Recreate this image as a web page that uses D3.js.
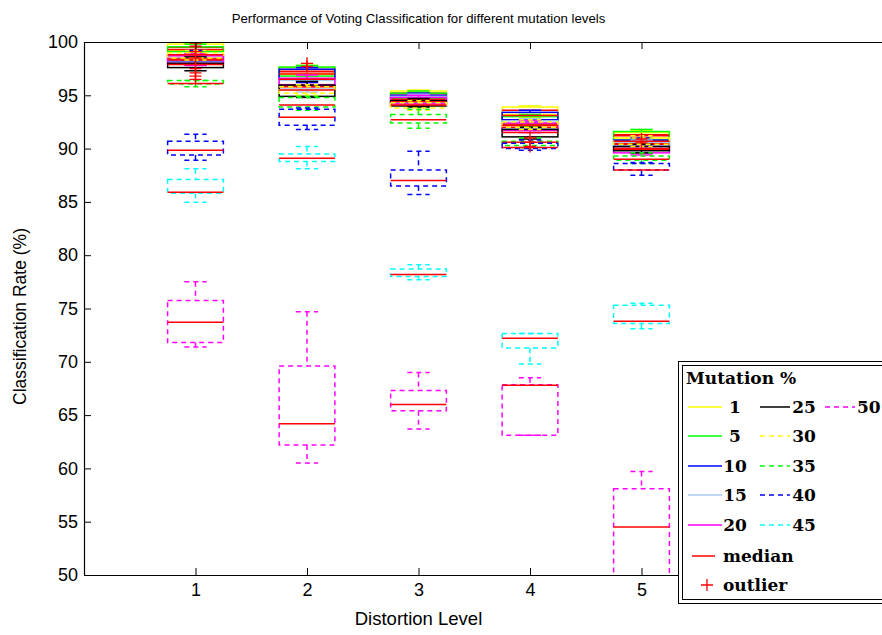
<!DOCTYPE html>
<html>
<head>
<meta charset="utf-8">
<script src="https://cdn.jsdelivr.net/npm/d3@7"></script>
<style>
  html, body { margin: 0; padding: 0; background: #fff; }
  svg { display: block; }
</style>
</head>
<body>
<svg id="chart" width="882" height="635"></svg>
<script>
// Distortion levels along the x axis
const distortionLevels = [1, 2, 3, 4, 5];
// Mutation percentages, one box group each
const mutationLevels = [1, 5, 10, 15, 20, 25, 30, 35, 40, 45, 50];

// Box statistics per distortion level: [lower whisker, Q1, median, Q3, upper whisker]
const mut1  = [[99.0, 99.2, 99.5, 99.8, 99.9], [96.8, 97.0, 97.4, 97.6, 97.8], [94.7, 94.9, 95.2, 95.4, 95.5], [92.9, 93.2, 93.6, 93.9, 94.0], [90.8, 91.0, 91.3, 91.5, 91.7]];
const mut5  = [[98.8, 99.1, 99.3, 99.55, 99.8], [96.4, 96.8, 97.2, 97.65, 97.8], [94.5, 94.7, 95.0, 95.2, 95.4], [92.1, 92.3, 92.7, 93.0, 93.2], [90.6, 90.8, 91.2, 91.6, 91.8]];
const mut10 = [[97.9, 98.2, 98.5, 98.75, 99.2], [96.2, 96.5, 97.0, 97.45, 97.6], [94.3, 94.5, 94.8, 95.0, 95.2], [92.5, 92.7, 93.1, 93.4, 93.6], [90.0, 90.2, 90.5, 90.8, 91.0]];
const mut15 = [[97.9, 98.1, 98.3, 98.5, 98.7], [95.3, 95.6, 96.0, 96.4, 96.6], [94.1, 94.3, 94.6, 94.9, 95.1], [91.7, 91.9, 92.3, 92.6, 92.8], [89.9, 90.1, 90.4, 90.6, 90.8]];
const mut20 = [[97.8, 98.0, 98.4, 98.7, 98.9], [95.8, 96.0, 96.5, 96.6, 96.9], [94.0, 94.2, 94.5, 94.8, 95.0], [91.5, 91.7, 92.0, 92.4, 92.6], [89.4, 89.6, 89.9, 90.0, 90.2]];
const mut25 = [[97.3, 97.6, 97.9, 98.0, 98.6], [94.8, 94.9, 95.8, 95.96, 96.3], [93.9, 94.0, 94.4, 94.5, 94.7], [90.9, 91.1, 91.5, 91.8, 92.0], [89.6, 89.8, 90.0, 90.2, 90.4]];
const mut30 = [[98.3, 98.5, 98.8, 99.0, 99.2], [95.0, 95.2, 95.5, 95.8, 96.0], [93.6, 93.8, 94.1, 94.3, 94.5], [91.8, 92.0, 92.2, 92.5, 92.7], [90.2, 90.4, 90.7, 91.0, 91.2]];
const mut35 = [[95.8, 96.05, 96.1, 96.4, 96.4], [93.6, 93.9, 94.1, 94.8, 94.9], [91.9, 92.4, 92.7, 93.2, 93.7], [90.1, 90.3, 90.6, 90.7, 91.0], [88.6, 88.9, 89.0, 89.3, 89.6]];
const mut40 = [[88.9, 89.4, 89.85, 90.7, 91.35], [91.8, 92.2, 92.95, 93.7, 93.8], [85.7, 86.5, 87.0, 88.0, 89.75], [89.85, 90.0, 90.1, 90.5, 90.8], [87.5, 88.0, 88.0, 88.6, 88.7]];
const mut45 = [[84.96, 85.8, 85.9, 87.1, 88.1], [88.1, 88.8, 89.1, 89.5, 90.2], [77.7, 78.0, 78.2, 78.7, 79.1], [69.8, 71.3, 72.2, 72.65, 72.65], [73.1, 73.6, 73.8, 75.3, 75.5]];
const mut50 = [[71.4, 71.8, 73.7, 75.75, 77.5], [60.5, 62.2, 64.2, 69.6, 74.7], [63.7, 65.4, 66.0, 67.3, 69.0], [63.1, 63.1, 67.8, 67.85, 68.5], [44.0, 48.0, 54.5, 58.1, 59.7]];

// Outlying observations: [distortion level, value]
const outliers = [
  [1, 99.9], [1, 99.6], [1, 99.1], [1, 98.8], [1, 98.5], [1, 97.5], [1, 97.1], [1, 96.8], [1, 96.5],
  [2, 98.0], [2, 97.7],
  [4, 91.0], [4, 90.6], [4, 90.2],
  [5, 90.9], [5, 90.6]
];

// Axis ticks
const yTicks = [50, 55, 60, 65, 70, 75, 80, 85, 90, 95, 100];
const xTicks = [1, 2, 3, 4, 5];

const seriesStats = [mut1, mut5, mut10, mut15, mut20, mut25, mut30, mut35, mut40, mut45, mut50];
const seriesColors = ["#ffff00", "#00ff00", "#0000ff", "#a6caf0", "#ff00ff", "#000000",
                      "#ffff00", "#00ff00", "#0000ff", "#00ffff", "#ff00ff"];
const seriesDashed = [false, false, false, false, false, false, true, true, true, true, true];
const dashPattern = "5,4";

const svg = d3.select("#chart");
// The axes run past the right edge of the figure; the legend sits over them
const plot = { left: 84, top: 42, bottom: 575 };

const x = d3.scaleLinear().domain([0, 7.3]).range([plot.left, plot.left + 7.3 * 111.5]);
plot.right = x(7.3);
const y = d3.scaleLinear().domain([50, 100]).range([plot.bottom, plot.top]);

svg.append("defs").append("clipPath").attr("id", "plotClip")
  .append("rect")
  .attr("x", plot.left).attr("y", plot.top)
  .attr("width", plot.right - plot.left).attr("height", plot.bottom - plot.top);

const boxHalf = x(0.25) - x(0);
const capHalf = x(0.1) - x(0);

const marks = svg.append("g").attr("clip-path", "url(#plotClip)");

// One group of boxes per mutation level, drawn in order
seriesStats.forEach((stats, si) => {
  const g = marks.append("g")
    .attr("stroke", seriesColors[si])
    .attr("stroke-width", 1.5)
    .attr("fill", "none")
    .attr("stroke-dasharray", seriesDashed[si] ? dashPattern : null);

  stats.forEach((s, li) => {
    const cx = x(distortionLevels[li]);
    const [lo, q1, med, q3, hi] = s;
    // whiskers
    g.append("line").attr("x1", cx).attr("x2", cx).attr("y1", y(hi)).attr("y2", y(q3));
    g.append("line").attr("x1", cx).attr("x2", cx).attr("y1", y(q1)).attr("y2", y(lo));
    // caps
    g.append("line").attr("x1", cx - capHalf).attr("x2", cx + capHalf).attr("y1", y(hi)).attr("y2", y(hi));
    g.append("line").attr("x1", cx - capHalf).attr("x2", cx + capHalf).attr("y1", y(lo)).attr("y2", y(lo));
    // box
    g.append("rect")
      .attr("x", cx - boxHalf).attr("y", y(q3))
      .attr("width", 2 * boxHalf).attr("height", Math.max(0, y(q1) - y(q3)));
    // median
    marks.append("line")
      .attr("x1", cx - boxHalf).attr("x2", cx + boxHalf)
      .attr("y1", y(med)).attr("y2", y(med))
      .attr("stroke", "#ff0000").attr("stroke-width", 1.5);
  });
});

// Outliers as red plus signs
const plus = 6;
outliers.forEach(([lvl, v]) => {
  const cx = x(lvl), cy = y(v);
  marks.append("path")
    .attr("d", `M${cx - plus},${cy}H${cx + plus}M${cx},${cy - plus}V${cy + plus}`)
    .attr("stroke", "#ff0000").attr("stroke-width", 1.3).attr("fill", "none");
});

// Axes (ticks inside, frame on left, top and bottom)
const tickFont = "Liberation Sans, Arial, sans-serif";
const axisG = svg.append("g");

axisG.append("g").attr("transform", `translate(${plot.left},0)`)
  .call(d3.axisLeft(y).tickValues(yTicks).tickSizeInner(-7).tickSizeOuter(0).tickPadding(6));
axisG.append("g").attr("transform", `translate(0,${plot.bottom})`)
  .call(d3.axisBottom(x).tickValues(xTicks).tickSizeInner(-7).tickSizeOuter(0).tickPadding(8).tickFormat(d3.format("d")));
axisG.append("g").attr("transform", `translate(0,${plot.top})`)
  .call(d3.axisTop(x).tickValues(xTicks).tickSizeInner(-7).tickSizeOuter(0).tickFormat(""));

axisG.selectAll(".domain").attr("stroke", "#000").attr("stroke-width", 1.2);
axisG.selectAll(".tick line").attr("stroke", "#000");
axisG.selectAll(".tick text")
  .attr("font-family", tickFont).attr("font-size", 18).attr("fill", "#000");

// Title and axis labels
svg.append("text")
  .attr("x", x(3)).attr("y", 23)
  .attr("text-anchor", "middle")
  .attr("font-family", tickFont).attr("font-size", 13.2)
  .text("Performance of Voting Classification for different mutation levels");

svg.append("text")
  .attr("x", x(3)).attr("y", 625)
  .attr("text-anchor", "middle")
  .attr("font-family", tickFont).attr("font-size", 18.5)
  .text("Distortion Level");

svg.append("text")
  .attr("transform", `translate(26,${(plot.top + plot.bottom) / 2 + 8}) rotate(-90)`)
  .attr("text-anchor", "middle")
  .attr("font-family", tickFont).attr("font-size", 17.5)
  .text("Classification Rate (%)");

// Legend
const legendFont = "DejaVu Serif, serif";
const leg = svg.append("g");
leg.append("rect").attr("x", 678.5).attr("y", 361.5).attr("width", 240).attr("height", 242)
  .attr("fill", "#fff").attr("stroke", "#000").attr("stroke-width", 1);
leg.append("rect").attr("x", 682.5).attr("y", 365.5).attr("width", 240).attr("height", 234)
  .attr("fill", "none").attr("stroke", "#000").attr("stroke-width", 1);

leg.append("text").attr("x", 686).attr("y", 384)
  .attr("font-family", legendFont).attr("font-weight", "bold").attr("font-size", 17)
  .text("Mutation %");

const rowY = [407, 436, 466, 495, 525];
const columns = [
  { lineX: [688, 722], textX: 735, anchor: "middle" },
  { lineX: [760, 790], textX: 804, anchor: "middle" },
  { lineX: [825, 855], textX: 857, anchor: "start" }
];
mutationLevels.forEach((m, i) => {
  const col = i < 5 ? 0 : (i < 10 ? 1 : 2);
  const row = i < 5 ? i : (i < 10 ? i - 5 : 0);
  const c = columns[col];
  const ly = rowY[row];
  leg.append("line")
    .attr("x1", c.lineX[0]).attr("x2", c.lineX[1]).attr("y1", ly).attr("y2", ly)
    .attr("stroke", seriesColors[i]).attr("stroke-width", 1.5)
    .attr("stroke-dasharray", seriesDashed[i] ? dashPattern : null);
  leg.append("text")
    .attr("x", c.textX).attr("y", ly + 6)
    .attr("text-anchor", c.anchor)
    .attr("font-family", legendFont).attr("font-weight", "bold").attr("font-size", 17)
    .text(m);
});

leg.append("line").attr("x1", 692).attr("x2", 715).attr("y1", 556).attr("y2", 556)
  .attr("stroke", "#ff0000").attr("stroke-width", 1.5);
leg.append("text").attr("x", 723).attr("y", 562)
  .attr("font-family", legendFont).attr("font-weight", "bold").attr("font-size", 17)
  .text("median");
leg.append("path").attr("d", "M701,585H713M707,579V591")
  .attr("stroke", "#ff0000").attr("stroke-width", 1.3);
leg.append("text").attr("x", 723).attr("y", 591)
  .attr("font-family", legendFont).attr("font-weight", "bold").attr("font-size", 17)
  .text("outlier");
</script>
</body>
</html>
